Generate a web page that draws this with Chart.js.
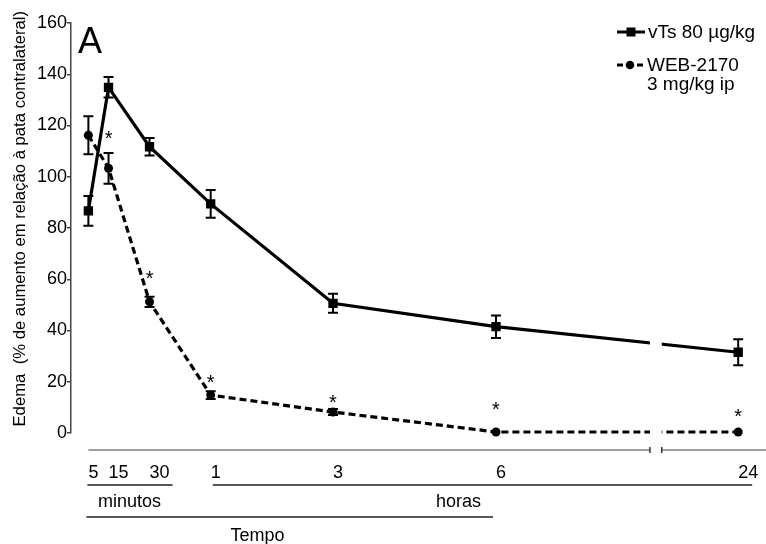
<!DOCTYPE html>
<html><head><meta charset="utf-8">
<script src="https://cdn.jsdelivr.net/npm/chart.js@4.4.1/dist/chart.umd.min.js"></script>
<style>html,body{margin:0;padding:0;background:#fff}#wrap{width:766px;height:544px;position:relative}</style>
</head><body><div id="wrap"><canvas id="c"></canvas></div>
<script>
// ---- data ----
const timeLabels = ['5', '15', '30', '1', '3', '6', '24'];
const timeUnits = ['min', 'min', 'min', 'h', 'h', 'h', 'h'];
// place of each time point on the (broken, non-linear) time axis, in axis units 0-100
const axisSlot = [2.5, 5.4, 11.3, 20.1, 37.7, 61.15, 96.0];
const axisBreak = [83.3, 85.0];
const vtsMean = [86.7, 134.9, 111.7, 89.4, 50.6, 41.5, 31.5];
const vtsSem  = [5.8, 4.0, 3.4, 5.4, 3.7, 4.4, 5.1];
const webMean = [116.2, 103.3, 51.2, 14.8, 8.2, 0.4, 0.4];
const webSem  = [7.4, 6.0, 2.0, 1.5, 1.2, 0, 0];
const sigMark = ['', '*', '*', '*', '*', '*', '*'];
const sigLevel = [null, 117, 62.4, 21.5, 14, 10.9, 8.2];
const yTicks = [0, 20, 40, 60, 80, 100, 120, 140, 160];
const seriesNames = ['vTs 80 \u00b5g/kg', ['WEB-2170', '3 mg/kg ip']];
const yTitle = '    Edema  (% de aumento em rela\u00e7\u00e3o \u00e0 pata contralateral)';

const FONT = '"Liberation Sans", Arial, sans-serif';

const pts = (m) => axisSlot.map((x, i) => ({x: x, y: m[i]}));

const custom = {
  id: 'custom',
  beforeDatasetsDraw(chart) {
    const ctx = chart.ctx, xs = chart.scales.x;
    const b0 = xs.getPixelForValue(axisBreak[0]), b1 = xs.getPixelForValue(axisBreak[1]);
    ctx.save();
    ctx.beginPath();
    ctx.rect(0, 0, b0, chart.height);
    ctx.rect(b1, 0, chart.width - b1, chart.height);
    ctx.clip();
  },
  afterDatasetsDraw(chart) {
    const ctx = chart.ctx;
    ctx.restore();
    const xs = chart.scales.x, ys = chart.scales.y;
    const drawErr = (mean, sem) => {
      ctx.save();
      ctx.strokeStyle = '#000';
      ctx.lineWidth = 2;
      mean.forEach((m, i) => {
        if (!sem[i]) return;
        const x = xs.getPixelForValue(axisSlot[i]);
        const yt = ys.getPixelForValue(m + sem[i]);
        const yb = ys.getPixelForValue(m - sem[i]);
        ctx.beginPath();
        ctx.moveTo(x, yt); ctx.lineTo(x, yb);
        ctx.moveTo(x - 5, yt); ctx.lineTo(x + 5, yt);
        ctx.moveTo(x - 5, yb); ctx.lineTo(x + 5, yb);
        ctx.stroke();
      });
      ctx.restore();
    };
    drawErr(vtsMean, vtsSem);
    drawErr(webMean, webSem);
  },
  afterDraw(chart) {
    const ctx = chart.ctx, xs = chart.scales.x, ys = chart.scales.y;
    const ca = chart.chartArea;
    const X = v => xs.getPixelForValue(v);
    ctx.save();
    const ay = ca.bottom + 17;
    ctx.strokeStyle = '#808080';
    ctx.lineWidth = 1.5;
    ctx.beginPath();
    ctx.moveTo(X(axisSlot[0]), ay); ctx.lineTo(X(axisBreak[0]), ay);
    ctx.moveTo(X(axisBreak[1]), ay); ctx.lineTo(ca.right, ay);
    ctx.stroke();
    ctx.strokeStyle = '#333';
    ctx.beginPath();
    [axisBreak[0], axisBreak[1]].forEach(b => { ctx.moveTo(X(b), ay - 3); ctx.lineTo(X(b), ay + 3); });
    ctx.stroke();
    ctx.strokeStyle = '#222';
    ctx.lineWidth = 1.6;
    const l1 = ca.bottom + 52, l2 = ca.bottom + 84;
    ctx.beginPath();
    ctx.moveTo(X(axisSlot[0]) - 1, l1); ctx.lineTo(X(axisSlot[2]) + 23, l1);
    ctx.moveTo(X(axisSlot[3]) + 2, l1); ctx.lineTo(X(axisSlot[6]) + 14, l1);
    ctx.moveTo(X(axisSlot[0]) - 2, l2); ctx.lineTo(X(axisSlot[5]) - 3, l2);
    ctx.stroke();
    ctx.fillStyle = '#000';
    ctx.font = '18px ' + FONT;
    ctx.textAlign = 'center';
    ctx.textBaseline = 'alphabetic';
    ctx.fillText('minutos', 129.5, 507);
    ctx.fillText('horas', 458.5, 507);
    ctx.fillText('Tempo', 257.5, 541);
    ctx.font = '20px ' + FONT;
    sigMark.forEach((s, i) => {
      if (!s) return;
      ctx.fillText(s, X(axisSlot[i]), ys.getPixelForValue(sigLevel[i]) + 0.57 * 20);
    });
    ctx.textAlign = 'left';
    ctx.font = '36px ' + FONT;
    ctx.fillText('A', 78, 53);
    ctx.font = '19px ' + FONT;
    ctx.textBaseline = 'middle';
    ctx.strokeStyle = '#000';
    ctx.lineWidth = 3;
    ctx.beginPath(); ctx.moveTo(617, 32); ctx.lineTo(645, 32); ctx.stroke();
    ctx.fillRect(631 - 4.5, 32 - 4.5, 9, 9);
    ctx.fillText(seriesNames[0], 648, 33);
    ctx.setLineDash([6, 4]);
    ctx.beginPath(); ctx.moveTo(617, 65); ctx.lineTo(645, 65); ctx.stroke();
    ctx.setLineDash([]);
    ctx.beginPath(); ctx.arc(630, 65, 4.3, 0, Math.PI * 2); ctx.fill();
    ctx.fillText(seriesNames[1][0], 647, 66);
    ctx.fillText(seriesNames[1][1], 647, 85);
    ctx.restore();
  }
};

new Chart(document.getElementById('c'), {
  type: 'line',
  data: {
    datasets: [
      {
        label: 'vTs 80 \u00b5g/kg', data: pts(vtsMean),
        borderColor: '#000', backgroundColor: '#000', borderWidth: 3.2,
        pointStyle: 'rect', pointRadius: 6.6, pointHoverRadius: 6.6, pointBorderWidth: 0,
        tension: 0, clip: false
      },
      {
        label: 'WEB-2170 3 mg/kg ip', data: pts(webMean),
        borderColor: '#000', backgroundColor: '#000', borderWidth: 3.2, borderDash: [7, 4],
        pointStyle: 'circle', pointRadius: 4.5, pointHoverRadius: 4.5, pointBorderWidth: 0,
        tension: 0, clip: false
      }
    ]
  },
  options: {
    responsive: true, maintainAspectRatio: false, animation: false,
    layout: {autoPadding: false, padding: {left: 0, top: 23, right: 0, bottom: 0}},
    plugins: {legend: {display: false}, tooltip: {enabled: false}},
    scales: {
      x: {
        type: 'linear', min: 0, max: 100,
        afterBuildTicks: s => { s.ticks = axisSlot.map(v => ({value: v})); },
        afterFit: s => { s.height = 111; s.paddingLeft = 0; s.paddingRight = 0; },
        border: {display: false},
        grid: {display: true, drawOnChartArea: false, drawTicks: true, tickLength: 29, color: 'rgba(0,0,0,0)'},
        ticks: {padding: 0, align: 'start', maxRotation: 0, autoSkip: false, color: '#000',
          font: {family: FONT, size: 18}, callback: (v, i) => timeLabels[i]}
      },
      y: {
        min: 0, max: 160,
        afterBuildTicks: s => { s.ticks = yTicks.map(v => ({value: v})); },
        afterFit: s => { s.width = 71; },
        border: {display: true, color: '#444', width: 1.5},
        grid: {display: true, drawOnChartArea: false, drawTicks: true, tickLength: 4, color: '#444', lineWidth: 1.5},
        ticks: {padding: 0, color: '#000', font: {family: FONT, size: 18}},
        title: {display: true, text: yTitle, color: '#000', font: {family: FONT, size: 16.7}, padding: {top: 10, bottom: 0}}
      }
    }
  },
  plugins: [custom]
});
</script></body></html>
